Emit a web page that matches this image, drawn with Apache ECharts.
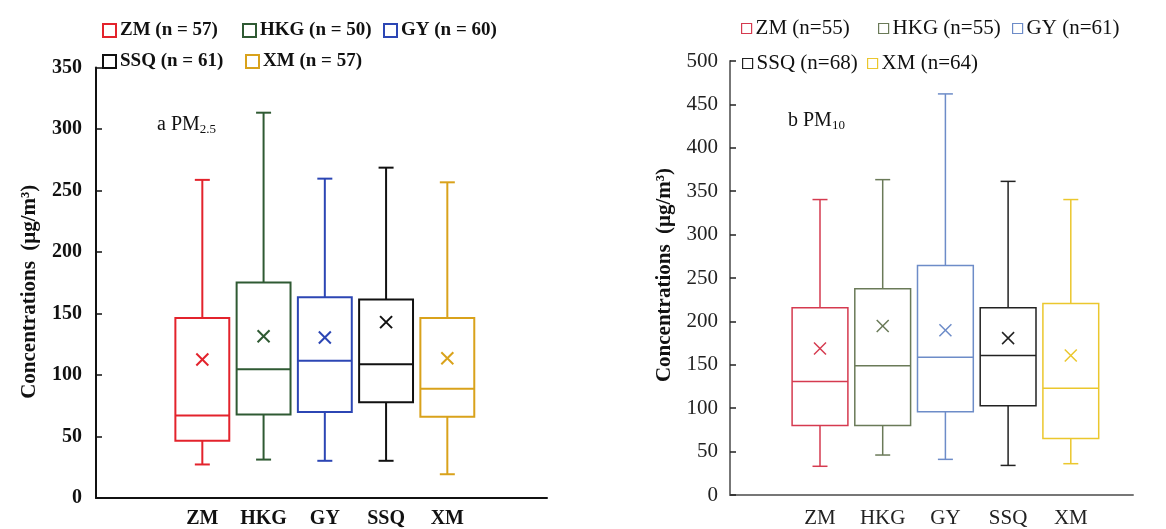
<!DOCTYPE html>
<html><head><meta charset="utf-8">
<script src="https://cdn.jsdelivr.net/npm/echarts@6/dist/echarts.min.js"></script>
<style>html,body{margin:0;padding:0;background:#fff}#c{width:1166px;height:529px}</style>
</head><body><div id="c"></div>
<script>
// ---- data ----
const sites = ['ZM', 'HKG', 'GY', 'SSQ', 'XM'];

const pm25Legend = ['ZM (n = 57)', 'HKG (n = 50)', 'GY (n = 60)', 'SSQ (n = 61)', 'XM (n = 57)'];
const pm25Min    = [25, 29, 28, 28, 17];
const pm25Q1     = [44.5, 66, 68, 76, 64];
const pm25Median = [65, 103, 110, 107, 87];
const pm25Q3     = [145, 174, 162, 160, 145];
const pm25Max    = [258, 313, 259, 268, 256];
const pm25Mean   = [111, 130, 129, 141.5, 112];

const pm10Legend = ['ZM (n=55)', 'HKG (n=55)', 'GY (n=61)', 'SSQ (n=68)', 'XM (n=64)'];
const pm10Min    = [32, 45, 40, 33, 35];
const pm10Q1     = [79, 79, 95, 102, 64];
const pm10Median = [130, 148, 158, 160, 122];
const pm10Q3     = [215, 237, 264, 215, 220];
const pm10Max    = [340, 363, 462, 361, 340];
const pm10Mean   = [168, 194, 189, 180, 160];

const pm25Ticks = {min: 0, max: 350, interval: 50};
const pm10Ticks = {min: 0, max: 500, interval: 50};

// ---- styles ----
const leftColors  = ['#e3232c', '#2f5a33', '#2c46b4', '#111111', '#d9a21b'];
const rightColors = ['#d53a4f', '#6a7a58', '#6d8cc8', '#222222', '#ebc72d'];
const SERIF = '"Liberation Serif", "DejaVu Serif", serif';

function makeRender(boxRatio, capW, lw, mk) {
  return function (params, api) {
    const x = api.value(0);
    const mn = api.value(1), q1 = api.value(2), md = api.value(3),
          q3 = api.value(4), mx = api.value(5), mean = api.value(6);
    const cx = api.coord([x, md])[0];
    const y = v => api.coord([x, v])[1];
    const bw = api.size([1, 0])[0] * boxRatio;
    const color = api.visual('color');
    const st = {stroke: color, lineWidth: lw, fill: null};
    const line = (x1, y1, x2, y2) => ({type: 'line', shape: {x1, y1, x2, y2}, style: st});
    const ym = y(mean);
    return {
      type: 'group',
      children: [
        {type: 'rect', shape: {x: cx - bw / 2, y: y(q3), width: bw, height: y(q1) - y(q3)}, style: st},
        line(cx - bw / 2, y(md), cx + bw / 2, y(md)),
        line(cx, y(q3), cx, y(mx)),
        line(cx - capW / 2, y(mx), cx + capW / 2, y(mx)),
        line(cx, y(q1), cx, y(mn)),
        line(cx - capW / 2, y(mn), cx + capW / 2, y(mn)),
        line(cx - mk, ym - mk, cx + mk, ym + mk),
        line(cx - mk, ym + mk, cx + mk, ym - mk)
      ]
    };
  };
}

function buildSeries(names, colors, mins, q1s, meds, q3s, maxs, means, gridIdx, render) {
  return names.map((nm, i) => ({
    name: nm,
    type: 'custom',
    xAxisIndex: gridIdx,
    yAxisIndex: gridIdx,
    itemStyle: {color: colors[i]},
    encode: {x: 0, y: [1, 2, 3, 4, 5, 6]},
    renderItem: render,
    data: [[i, mins[i], q1s[i], meds[i], q3s[i], maxs[i], means[i]]],
    silent: true
  }));
}

function legendItem(name, color, left, top, size, font, bold, bw) {
  return {
    left: left, top: top, padding: 0, itemGap: 0,
    itemWidth: size, itemHeight: size, itemStyle: {borderWidth: bw},
    selectedMode: false,
    textStyle: {fontFamily: SERIF, fontSize: font, fontWeight: bold ? 'bold' : 'normal', color: '#111', padding: [0, 0, 0, -1]},
    data: [{name: name, icon: 'rect', itemStyle: {color: '#ffffff', borderColor: color, borderWidth: bw}}]
  };
}

const chart = echarts.init(document.getElementById('c'), null, {renderer: 'canvas'});

const L = {left: 96, top: 67.5, width: 451, height: 430.5};
const Lc = {left: 171.7, top: 67.5, width: 306.25, height: 430.5};
const R = {left: 730, top: 61, width: 403, height: 434};
const Rc = {left: 788.65, top: 61, width: 313.5, height: 434};

const subRich = {s: {fontFamily: SERIF, fontSize: 13, verticalAlign: 'bottom', padding: [9, 0, 0, 0], color: '#111'}};

const option = {
  animation: false,
  backgroundColor: '#ffffff',
  grid: [L, Lc, R, Rc],
  title: [
    {text: 'a PM{s|2.5}', left: 157, top: 114, padding: 0,
     textStyle: {fontFamily: SERIF, fontSize: 20, fontWeight: 'normal', color: '#111', rich: subRich}},
    {text: 'b PM{s|10}', left: 788, top: 110, padding: 0,
     textStyle: {fontFamily: SERIF, fontSize: 20, fontWeight: 'normal', color: '#111', rich: subRich}}
  ],
  legend: [
    legendItem(pm25Legend[0], leftColors[0], 102, 21, 13, 19, true, 2),
    legendItem(pm25Legend[1], leftColors[1], 242, 21, 13, 19, true, 2),
    legendItem(pm25Legend[2], leftColors[2], 383, 21, 13, 19, true, 2),
    legendItem(pm25Legend[3], leftColors[3], 102, 52, 13, 19, true, 2),
    legendItem(pm25Legend[4], leftColors[4], 245, 52, 13, 19, true, 2),
    legendItem(pm10Legend[0], rightColors[0], 741, 18, 10, 21, false, 1.2),
    legendItem(pm10Legend[1], rightColors[1], 878, 18, 10, 21, false, 1.2),
    legendItem(pm10Legend[2], rightColors[2], 1012, 18, 10, 21, false, 1.2),
    legendItem(pm10Legend[3], rightColors[3], 742, 53, 10, 21, false, 1.2),
    legendItem(pm10Legend[4], rightColors[4], 867, 53, 10, 21, false, 1.2)
  ],
  xAxis: [
    {gridIndex: 0, type: 'value', min: 0, max: 1, axisLine: {show: true, onZero: false, lineStyle: {color: '#111', width: 2}},
     axisTick: {show: false}, axisLabel: {show: false}, splitLine: {show: false}},
    {gridIndex: 1, type: 'category', data: sites, axisLine: {show: false}, axisTick: {show: false}, splitLine: {show: false},
     axisLabel: {margin: 14, fontFamily: SERIF, fontSize: 20, fontWeight: 'bold', color: '#111'}},
    {gridIndex: 2, type: 'value', min: 0, max: 1, axisLine: {show: true, onZero: false, lineStyle: {color: '#777', width: 2}},
     axisTick: {show: false}, axisLabel: {show: false}, splitLine: {show: false}},
    {gridIndex: 3, type: 'category', data: sites, axisLine: {show: false}, axisTick: {show: false}, splitLine: {show: false},
     axisLabel: {margin: 14, fontFamily: SERIF, fontSize: 21, color: '#222'}}
  ],
  yAxis: [
    {gridIndex: 0, type: 'value', min: pm25Ticks.min, max: pm25Ticks.max, interval: pm25Ticks.interval,
     name: 'Concentrations  (μg/m³)', nameLocation: 'middle', nameGap: 56, nameRotate: 90,
     nameTextStyle: {fontFamily: SERIF, fontSize: 21, fontWeight: 'bold', color: '#111', padding: [0, 18, 0, 0]},
     axisLine: {show: true, lineStyle: {color: '#111', width: 2}},
     axisTick: {show: true, inside: true, length: 6, lineStyle: {color: '#111', width: 1.5}},
     axisLabel: {margin: 14, fontFamily: SERIF, fontSize: 20, fontWeight: 'bold', color: '#111'},
     splitLine: {show: false}},
    {gridIndex: 1, type: 'value', min: pm25Ticks.min, max: pm25Ticks.max, interval: pm25Ticks.interval, show: false, splitLine: {show: false}},
    {gridIndex: 2, type: 'value', min: pm10Ticks.min, max: pm10Ticks.max, interval: pm10Ticks.interval,
     name: 'Concentrations  (μg/m³)', nameLocation: 'middle', nameGap: 55, nameRotate: 90,
     nameTextStyle: {fontFamily: SERIF, fontSize: 21, fontWeight: 'bold', color: '#111', padding: [0, 0, 0, 6]},
     axisLine: {show: true, lineStyle: {color: '#777', width: 2}},
     axisTick: {show: true, inside: true, length: 6, lineStyle: {color: '#222', width: 1.5}},
     axisLabel: {margin: 12, fontFamily: SERIF, fontSize: 21, color: '#222'},
     splitLine: {show: false}},
    {gridIndex: 3, type: 'value', min: pm10Ticks.min, max: pm10Ticks.max, interval: pm10Ticks.interval, show: false, splitLine: {show: false}}
  ],
  series: [].concat(
    buildSeries(pm25Legend, leftColors, pm25Min, pm25Q1, pm25Median, pm25Q3, pm25Max, pm25Mean, 1, makeRender(0.88, 15, 2, 6)),
    buildSeries(pm10Legend, rightColors, pm10Min, pm10Q1, pm10Median, pm10Q3, pm10Max, pm10Mean, 3, makeRender(0.89, 15, 1.5, 6))
  )
};
chart.setOption(option);
</script></body></html>
